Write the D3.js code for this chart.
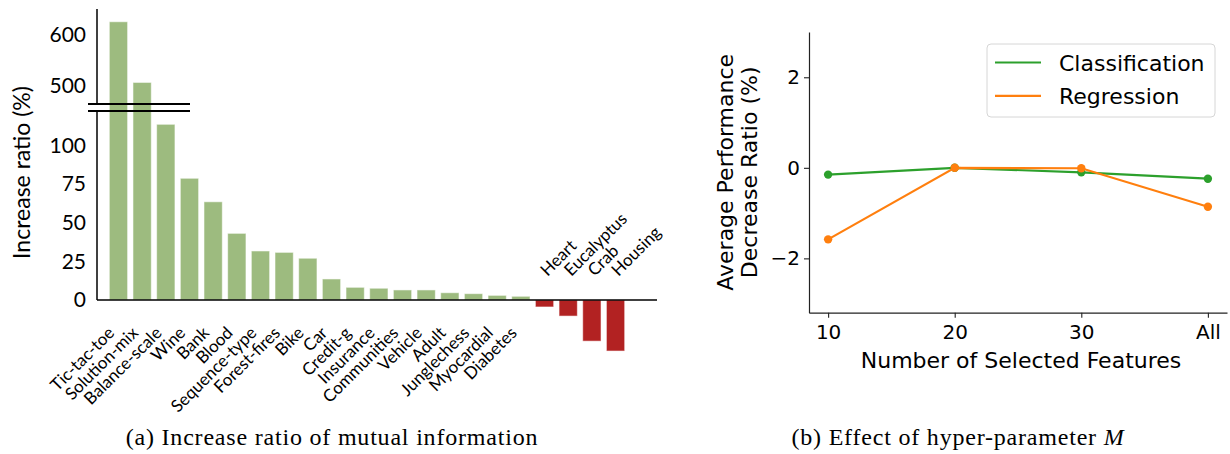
<!DOCTYPE html>
<html>
<head>
<meta charset="utf-8">
<script src="https://cdn.jsdelivr.net/npm/d3@7"></script>
<style>
  body { margin: 0; background: #fff; }
  svg { display: block; }
</style>
</head>
<body>
<svg id="fig" width="1230" height="454"></svg>
<script>
// ---- Panel (a): increase ratio of mutual information per dataset ----
const datasets = ["Tic-tac-toe", "Solution-mix", "Balance-scale", "Wine", "Bank", "Blood",
  "Sequence-type", "Forest-fires", "Bike", "Car", "Credit-g", "Insurance", "Communities",
  "Vehicle", "Adult", "Junglechess", "Myocardial", "Diabetes", "Heart", "Eucalyptus",
  "Crab", "Housing"];
const increaseRatio = [625, 506, 113.6, 78.7, 63.5, 43.1, 31.7, 30.8, 27.0, 13.6, 8.2, 7.6,
  6.5, 6.5, 4.7, 4.1, 3.0, 2.4, -4.5, -10.4, -26.6, -33.0];
const lowerTicks = [0, 25, 50, 75, 100];
const upperTicks = [500, 600];
// broken y axis: lower segment [0, lowerMax], upper segment [upperMin, upperMax]
const lowerMax = 122.2, upperMin = 463.7, upperMax = 650;

// ---- Panel (b): effect of hyper-parameter M ----
const featureCounts = ["10", "20", "30", "All"];
const classification = [-0.15, 0.0, -0.10, -0.24];
const regression = [-1.58, 0.0, -0.01, -0.86];
const yTicksB = [-2, 0, 2];

const svg = d3.select("#fig");
svg.append("rect").attr("width", 1230).attr("height", 454).attr("fill", "#fff");

// ================= Panel (a) =================
const A = { left: 97, right: 637, baseline: 300, lowTop: 111, upBottom: 104, top: 9 };
const fontA = "Lato, 'Open Sans', sans-serif";

const xA = d3.scaleBand().domain(datasets).range([A.left, A.right])
  .paddingInner(0.227).paddingOuter(0.52);
// piecewise scale squeezes the gap between the two segments
const yA = d3.scaleLinear()
  .domain([0, lowerMax, upperMin, upperMax])
  .range([A.baseline, A.lowTop, A.upBottom, A.top]);

const gA = svg.append("g");

gA.selectAll("rect.bar").data(datasets).join("rect")
  .attr("class", "bar")
  .attr("x", d => xA(d))
  .attr("width", xA.bandwidth())
  .attr("y", (d, i) => Math.min(yA(increaseRatio[i]), yA(0)))
  .attr("height", (d, i) => Math.abs(yA(increaseRatio[i]) - yA(0)))
  .attr("fill", (d, i) => increaseRatio[i] >= 0 ? "#9dbb7f" : "#b22222")
  .attr("stroke", "#fff").attr("stroke-opacity", 0.55).attr("stroke-width", 1);

// zero line
gA.append("line")
  .attr("x1", A.left).attr("x2", A.right + 20)
  .attr("y1", yA(0)).attr("y2", yA(0))
  .attr("stroke", "#000").attr("stroke-width", 1.5);

// left spine in two pieces
gA.append("line").attr("x1", A.left).attr("x2", A.left)
  .attr("y1", yA(upperMax)).attr("y2", yA(upperMin))
  .attr("stroke", "#000").attr("stroke-width", 1.5);
gA.append("line").attr("x1", A.left).attr("x2", A.left)
  .attr("y1", yA(lowerMax)).attr("y2", yA(0))
  .attr("stroke", "#000").attr("stroke-width", 1.5);

// break marks
[upperMin, lowerMax].forEach(v => {
  gA.append("line")
    .attr("x1", A.left - 9).attr("x2", A.left + 93)
    .attr("y1", yA(v)).attr("y2", yA(v))
    .attr("stroke", "#000").attr("stroke-width", 1.8);
});

// y tick labels
const yAxisA = gA.append("g")
  .attr("transform", `translate(${A.left},0)`)
  .call(d3.axisLeft(yA).tickValues(lowerTicks.concat(upperTicks)).tickSize(0).tickPadding(11));
yAxisA.select(".domain").remove();
yAxisA.selectAll("text").attr("font-family", fontA).attr("font-size", 21).attr("fill", "#000");

// y label
gA.append("text")
  .attr("transform", `translate(30,${(A.top + A.baseline) / 2 + 18}) rotate(-90)`)
  .attr("text-anchor", "middle")
  .attr("font-family", fontA).attr("font-size", 23)
  .text("Increase ratio (%)");

// category labels: below for gains, above for losses
const xAxisA = gA.append("g")
  .attr("transform", `translate(0,${yA(0)})`)
  .call(d3.axisBottom(xA).tickSize(0));
xAxisA.select(".domain").remove();
xAxisA.selectAll(".tick text")
  .attr("font-family", fontA).attr("font-size", 17).attr("fill", "#000")
  .attr("y", 0).attr("dy", 0)
  .each(function (d) {
    const v = increaseRatio[datasets.indexOf(d)];
    const t = d3.select(this);
    if (v >= 0) t.attr("text-anchor", "end").attr("transform", "translate(-3,34) rotate(-45)");
    else t.attr("text-anchor", "start").attr("transform", "translate(3,-23) rotate(-45)");
  });

// ================= Panel (b) =================
const B = { left: 809, right: 1227, top: 32, bottom: 312.7 };
const fontB = "'DejaVu Sans', sans-serif";

const xB = d3.scalePoint().domain(featureCounts).range([B.left, B.right]).padding(0.151);
const yB = d3.scaleLinear().domain([-3.2, 3.0]).range([B.bottom, B.top]);

const gB = svg.append("g");

const yAxisB = gB.append("g")
  .attr("transform", `translate(${B.left},0)`)
  .call(d3.axisLeft(yB).tickValues(yTicksB).tickFormat(d3.format("d"))
    .tickSize(5).tickSizeOuter(0).tickPadding(4));
const xAxisB = gB.append("g")
  .attr("transform", `translate(0,${B.bottom})`)
  .call(d3.axisBottom(xB).tickSize(5).tickSizeOuter(0).tickPadding(7));
[yAxisB, xAxisB].forEach(ax => {
  ax.select(".domain").attr("stroke", "#222").attr("stroke-width", 1.2);
  ax.selectAll(".tick line").attr("stroke", "#222").attr("stroke-width", 1.1);
  ax.selectAll(".tick text").attr("font-family", fontB).attr("font-size", 20).attr("fill", "#000");
});

gB.append("text")
  .attr("x", (B.left + B.right) / 2 + 3).attr("y", 368)
  .attr("text-anchor", "middle")
  .attr("font-family", fontB).attr("font-size", 22)
  .text("Number of Selected Features");

const yMid = (B.top + B.bottom) / 2;
[["Average Performance", 733], ["Decrease Ratio (%)", 757]].forEach(([label, bx]) => {
  gB.append("text")
    .attr("transform", `translate(${bx},${yMid}) rotate(-90)`)
    .attr("text-anchor", "middle")
    .attr("font-family", fontB).attr("font-size", 22)
    .text(label);
});

const series = [
  { name: "Classification", values: classification, color: "#2ca02c" },
  { name: "Regression", values: regression, color: "#ff7f0e" }
];
const line = d3.line().x((v, i) => xB(featureCounts[i])).y(v => yB(v));

series.forEach(s => {
  gB.append("path").datum(s.values)
    .attr("d", line)
    .attr("fill", "none").attr("stroke", s.color).attr("stroke-width", 2.2);
  gB.selectAll(null).data(s.values).join("circle")
    .attr("cx", (v, i) => xB(featureCounts[i]))
    .attr("cy", v => yB(v))
    .attr("r", 4.2)
    .attr("fill", s.color);
});

// legend
const leg = gB.append("g").attr("transform", "translate(987,44)");
leg.append("rect")
  .attr("width", 228).attr("height", 73).attr("rx", 4)
  .attr("fill", "#fff").attr("fill-opacity", 0.8)
  .attr("stroke", "#d6d6d6").attr("stroke-width", 1);
series.forEach((s, i) => {
  const y0 = 18.5 + i * 33.4;
  leg.append("line")
    .attr("x1", 8).attr("x2", 54).attr("y1", y0).attr("y2", y0)
    .attr("stroke", s.color).attr("stroke-width", 2.2);
  leg.append("text")
    .attr("x", 72).attr("y", y0 + 8.5)
    .attr("font-family", fontB).attr("font-size", 22)
    .text(s.name);
});

// ================= captions =================
const capFont = "'Liberation Serif', 'Times New Roman', serif";
svg.append("text")
  .attr("x", 332).attr("y", 444.5).attr("text-anchor", "middle")
  .attr("font-family", capFont).attr("font-size", 24).attr("letter-spacing", 0.8)
  .text("(a) Increase ratio of mutual information");
const capB = svg.append("text")
  .attr("x", 958).attr("y", 444.5).attr("text-anchor", "middle")
  .attr("font-family", capFont).attr("font-size", 24).attr("letter-spacing", 0.8);
capB.append("tspan").text("(b) Effect of hyper-parameter ");
capB.append("tspan").attr("font-style", "italic").text("M");
</script>
</body>
</html>
